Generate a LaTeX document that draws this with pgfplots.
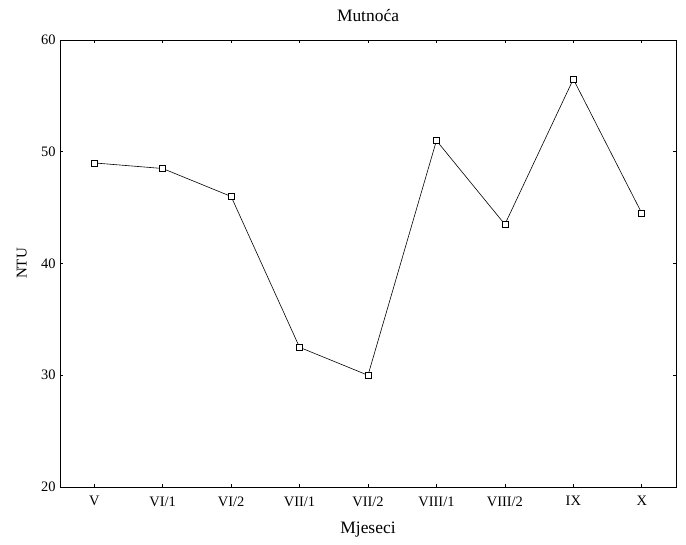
\documentclass[border=0pt]{standalone}
\usepackage{fontspec}
\setmainfont{Liberation Serif}
\usepackage{pgfplots}
\pgfplotsset{compat=1.18}
\usetikzlibrary{calc}

\begin{document}
\begin{tikzpicture}[font=\fontsize{14.5}{16}\selectfont]
\begin{axis}[
    scale only axis,
    width=616bp,
    height=447bp,
    xmin=-0.5, xmax=8.5,
    ymin=20, ymax=60,
    xtick={0,...,8},
    xticklabels={V,VI/1,VI/2,VII/1,VII/2,VIII/1,VIII/2,IX,X},
    ytick={20,30,40,50,60},
    tick align=inside,
    major tick length=3bp,
    axis line style={line width=0.8pt},
    tick style={line width=0.6pt, black},
    /pgf/number format/assume math mode=true,
    ticklabel style={font=\fontsize{14.5}{16}\selectfont},
    xticklabel style={yshift=-6bp},
    yticklabel style={xshift=-1bp},
    clip=false,
]
\addplot[black, line width=0.6pt, mark=square*, mark options={fill=white, line width=0.6pt}, mark size=3bp] coordinates {
    (0, 49)
    (1, 48.5)
    (2, 46)
    (3, 32.5)
    (4, 30)
    (5, 51)
    (6, 43.5)
    (7, 56.5)
    (8, 44.5)
};
\node[font=\fontsize{17.5}{19}\selectfont, anchor=center] at (rel axis cs:0.5,1.0537) {Mutnoća};
\node[font=\fontsize{17.5}{19}\selectfont, anchor=center] at (rel axis cs:0.5,-0.0961) {Mjeseci};
\node[font=\fontsize{15}{17}\selectfont, anchor=center, rotate=90] at (rel axis cs:-0.062,0.5) {NTU};
\coordinate (sw) at (rel axis cs:0,0);
\coordinate (ne) at (rel axis cs:1,1);
\end{axis}
\pgfresetboundingbox
\path[use as bounding box] ($(sw)+(-60bp,-57bp)$) rectangle ($(ne)+(10bp,40bp)$);
\end{tikzpicture}
\end{document}
